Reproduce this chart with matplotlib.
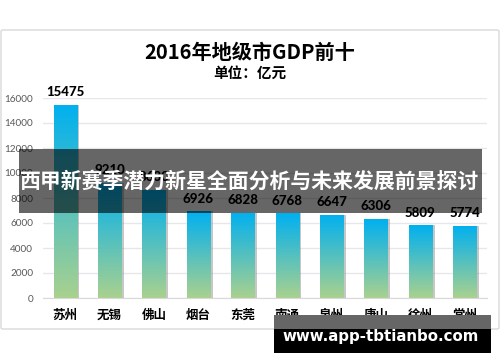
import matplotlib
matplotlib.use("Agg")
import matplotlib.pyplot as plt
import numpy as np
from matplotlib.patches import FancyBboxPatch, Rectangle
from matplotlib.colors import LinearSegmentedColormap

plt.rcParams['font.family'] = ['Noto Sans CJK SC', 'DejaVu Sans']

cities = ["苏州", "无锡", "佛山", "烟台", "东莞", "南通", "泉州", "唐山", "徐州", "常州"]
gdp = [15475, 9210, 8630, 6926, 6828, 6768, 6647, 6306, 5809, 5774]
yticks = [0, 2000, 4000, 6000, 8000, 10000, 12000, 14000, 16000]
title = "2016年地级市GDP前十"
subtitle = "单位：亿元"
banner = "西甲新赛季潜力新星全面分析与未来发展前景探讨"
watermark = "www.app-tbtianbo.com"

W, H = 500, 362
fig = plt.figure(figsize=(W / 100, H / 100), dpi=100)
fig.patch.set_facecolor("white")

def fx(px):
    return px / W

def fy(py):
    return 1 - py / H

# outer frame
frame = FancyBboxPatch((fx(1), fy(329)), fx(498), (329 - 30) / H,
                       boxstyle="round,pad=0,rounding_size=0.004",
                       transform=fig.transFigure, facecolor="white",
                       edgecolor="#D9D9D9", linewidth=1.0, zorder=-5)
fig.patches.append(frame)

ax = fig.add_axes([fx(43), fy(298), fx(487 - 43), (298 - 98) / H])
ax.set_zorder(1)
ax.set_facecolor("none")
ax.set_xlim(-0.5, len(cities) - 0.5)
ax.set_ylim(0, 16000)
ax.set_yticks(yticks)
ax.set_yticklabels([str(v) for v in yticks], color="#595959", fontsize=7.2,
                   family="Lato")
ax.set_xticks(range(len(cities)))
ax.set_xticklabels(cities, fontsize=9, fontweight="bold", color="black")
ax.tick_params(axis="both", length=0)
ax.tick_params(axis="x", pad=8)
ax.tick_params(axis="y", pad=7)
for s in ["top", "right", "left"]:
    ax.spines[s].set_visible(False)
ax.spines["bottom"].set_color("#D9D9D9")
ax.grid(axis="y", color="#E6E6EC", linewidth=1.0)
ax.set_axisbelow(True)

cmap = LinearSegmentedColormap.from_list("g", ["#A9D18E", "#00B0F0"])
grad = np.linspace(0, 1, 256).reshape(-1, 1)
bars = ax.bar(range(len(cities)), gdp, width=0.52, color="none",
              edgecolor="none", zorder=2)
for b, v in zip(bars, gdp):
    x0 = b.get_x()
    w = b.get_width()
    shadow = Rectangle((x0 + 0.06, 0), w, v, facecolor="#9a9a9a", alpha=0.55,
                       edgecolor="none", zorder=1.5)
    ax.add_patch(shadow)
    im = ax.imshow(grad, extent=[x0, x0 + w, 0, v], origin="lower", cmap=cmap,
                   aspect="auto", zorder=2.5)
    im.set_clip_path(b)
    ax.text(b.get_x() + w / 2, v + 550, str(v), ha="center", va="bottom",
            fontsize=9.5, fontweight="black", color="black",
            family="Lato", zorder=3)
ax.set_xlim(-0.5, len(cities) - 0.5)
ax.set_ylim(0, 16000)

fig.text(0.5, fy(52), title, ha="center", va="center", fontsize=14.5,
         fontweight="bold", color="black")
fig.text(0.5, fy(73), subtitle, ha="center", va="center", fontsize=10.5,
         fontweight="bold", color="black")

# banner overlay
fig.patches.append(Rectangle((fx(19), fy(213)), fx(482 - 19), 64 / H,
                             transform=fig.transFigure, facecolor="black",
                             alpha=0.6, edgecolor="none", zorder=10))
fig.text(0.5, fy(181), banner, ha="center", va="center", fontsize=15,
         fontweight="bold", color="white", zorder=11)

# watermark
fig.patches.append(Rectangle((fx(274), fy(329)), fx(491 - 274), 14 / H,
                             transform=fig.transFigure, facecolor="#666666",
                             edgecolor="none", zorder=10))
fig.patches.append(Rectangle((fx(274), fy(353)), fx(491 - 274), 24 / H,
                             transform=fig.transFigure, facecolor="black",
                             edgecolor="none", zorder=10))
fig.text(fx(381), fy(337), watermark, ha="center", va="center", fontsize=10.8,
         fontweight="bold", color="white", family="DejaVu Sans", zorder=11)

fig.savefig("out.png", dpi=100)
